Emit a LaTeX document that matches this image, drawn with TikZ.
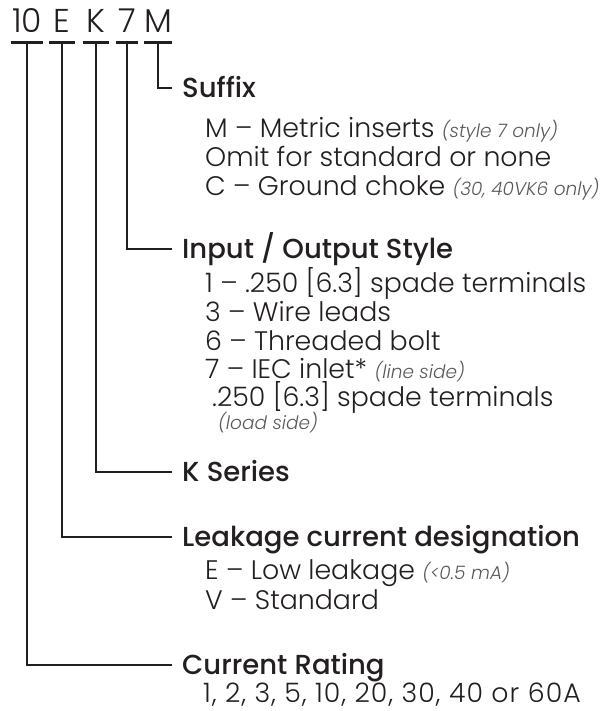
\documentclass[tikz,border=0pt]{standalone}
\usepackage{fontspec}
\setmainfont{Poppins Light}
\newfontfamily\headfont{Poppins Medium}
\newfontfamily\widefont{Poppins Light}[LetterSpace=4]
\usetikzlibrary{calc}

\definecolor{ink}{HTML}{231F20}
\definecolor{notegray}{HTML}{58595B}
\newcommand{\note}[1]{{\fontsize{18.5}{18.5}\selectfont\itshape\color{notegray}#1}}

\tikzset{
  code/.style={anchor=south,inner sep=0pt,text height=23pt,text depth=10pt,font=\fontsize{33}{33}\selectfont,text=ink},
  bar/.style={line width=3pt,ink},
  conn/.style={line width=2pt,ink},
  head/.style={anchor=west,inner sep=0pt,text height=19pt,text depth=0pt,font=\headfont\fontsize{27.5}{27.5}\selectfont,text=ink},
  item/.style={anchor=west,inner sep=0pt,text height=19pt,text depth=0pt,font=\fontsize{26.8}{26.8}\selectfont,text=ink}
}

\begin{document}
\begin{tikzpicture}[x=1pt,y=-1pt]
\useasboundingbox (0,0) rectangle (608,711);
\node[code,minimum width=32pt] (c10) at (27,43) {10};
\node[code,minimum width=26pt] (cE) at (62,43) {E};
\node[code,minimum width=26pt] (cK) at (96,43) {K};
\node[code,minimum width=22pt] (c7) at (127,43) {7};
\node[code,minimum width=28pt] (cM) at (158,43) {M};
\foreach \c in {c10,cE,cK,c7,cM}
  \draw[bar] (\c.south west) -- (\c.south east);

\node[head] (suffix) at (182,88) {Suffix};
\node[item] (sM) at (205,128) {M – Metric inserts \note{(style 7 only)}};
\node[item] (sOmit) at (205,157) {Omit for standard or none};
\node[item] (sC) at (205,186) {C – Ground choke \note{(30, 40VK6 only)}};

\node[head] (io) at (182,249) {Input / Output Style};
\node[item] (io1) at (205,283) {1 – .250 [6.3] spade terminals};
\node[item] (io3) at (205,312) {3 – Wire leads};
\node[item] (io6) at (205,341) {6 – Threaded bolt};
\node[item] (io7) at (205,369) {7 – IEC inlet* \note{(line side)}};
\node[item] (io7b) at (212,397) {.250 [6.3] spade terminals};
\node[item] (io7c) at (218,420) {\note{(load side)}};

\node[head] (kser) at (182,472) {K Series};

\node[head] (leak) at (182,537) {Leakage current designation};
\node[item] (leakE) at (205,570) {E – Low leakage \note{(<0.5 mA)}};
\node[item] (leakV) at (205,600) {V – Standard};

\node[head] (rating) at (182,665) {Current Rating};
\node[item,font=\widefont\fontsize{26.8}{26.8}\selectfont] (ratings) at (203,693) {1, 2, 3, 5, 10, 20, 30, 40 or 60A};

\draw[conn] (cM.south) |- ([xshift=-10pt]suffix.west);
\draw[conn] (c7.south) |- ([xshift=-10pt]io.west);
\draw[conn] (cK.south) |- ([xshift=-10pt]kser.west);
\draw[conn] (cE.south) |- ([xshift=-10pt]leak.west);
\draw[conn] (c10.south) |- ([xshift=-10pt]rating.west);
\end{tikzpicture}
\end{document}
